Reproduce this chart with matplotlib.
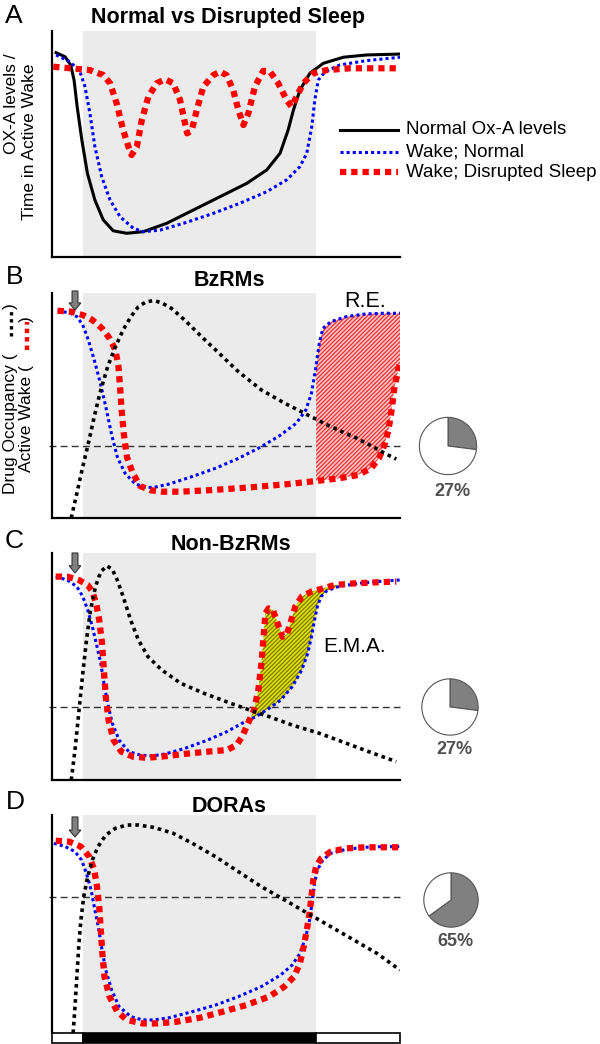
import numpy as np
import matplotlib
matplotlib.use('Agg')
from matplotlib import pyplot as plt
from matplotlib import patches
from matplotlib.lines import Line2D
from matplotlib.transforms import blended_transform_factory

plt.rcParams['font.family'] = ['Liberation Sans', 'DejaVu Sans']
plt.rcParams['hatch.linewidth'] = 0.9

W, H = 600, 1044

# time (h) and the dark period
t_end = 11.2
lights_off, lights_on = 1.0, 8.5
dose_time = 0.74

# ---- A: normal vs disrupted sleep ----
a_oxa_t = [0.13, 0.42, 0.60, 0.71, 0.81, 0.96, 1.14, 1.38, 1.65, 1.97, 2.40, 2.94, 3.69, 4.55,
           5.41, 6.27, 6.91, 7.34, 7.60, 7.77, 7.98, 8.30, 8.73, 9.38, 10.13, 11.2]
a_oxa_y = [90.4, 88.6, 85.0, 78.3, 66.5, 51.8, 37.0, 25.2, 16.4, 11.6, 10.5, 11.2, 14.9, 20.8,
           26.7, 32.6, 38.5, 45.9, 56.2, 65.0, 73.9, 81.3, 85.7, 88.4, 89.4, 89.8]
a_wake_t = [0.13, 0.58, 0.90, 1.06, 1.22, 1.38, 1.60, 1.87, 2.19, 2.62, 2.94, 3.48, 4.23, 5.19,
            6.05, 6.91, 7.55, 7.98, 8.20, 8.36, 8.46, 8.57, 8.79, 9.27, 10.13, 11.2]
a_wake_y = [89.4, 86.4, 82.0, 75.4, 63.6, 48.8, 35.5, 25.2, 17.8, 12.7, 11.2, 11.9, 14.9, 19.3,
            23.8, 28.9, 34.1, 40.0, 45.9, 57.7, 69.5, 78.3, 82.0, 85.0, 86.9, 88.4]
a_disr_t = [0.04, 1.22, 1.65, 1.87, 2.08, 2.29, 2.46, 2.56, 2.73, 2.89, 3.10, 3.37, 3.64, 3.90,
            4.12, 4.28, 4.35, 4.50, 4.66, 4.87, 5.19, 5.41, 5.62, 5.83, 6.00, 6.16, 6.32, 6.53,
            6.80, 7.02, 7.28, 7.55, 7.71, 7.87, 8.09, 8.41, 8.84, 9.59, 11.2]
a_disr_y = [84.2, 82.7, 80.5, 76.9, 68.0, 56.2, 48.8, 45.1, 48.8, 60.6, 70.9, 76.9, 78.6, 76.9,
            69.5, 59.2, 54.7, 56.2, 65.0, 75.4, 80.5, 82.0, 80.5, 73.9, 65.0, 58.4, 63.6, 75.4,
            82.4, 82.0, 76.9, 69.5, 66.5, 70.9, 76.9, 81.3, 82.7, 83.5, 83.5]

# ---- B: BzRMs ----
b_wake_t = [0.18, 0.55, 0.80, 0.99, 1.17, 1.36, 1.54, 1.73, 1.91, 2.10, 2.35, 2.66, 2.97, 3.28,
            3.77, 4.51, 5.26, 6.00, 6.74, 7.36, 7.86, 8.17, 8.35, 8.48, 8.60, 8.72, 8.97, 9.47,
            10.09, 10.70, 11.2]
b_wake_y = [92.1, 91.2, 89.5, 85.8, 79.1, 70.2, 60.8, 49.5, 37.6, 27.2, 19.9, 15.4, 13.6, 13.6,
            15.1, 18.4, 22.1, 26.5, 31.7, 36.9, 42.1, 48.0, 55.4, 65.8, 77.6, 84.3, 87.2, 89.5,
            90.7, 91.0, 91.0]
b_drug_t = [0.18, 0.62, 0.99, 1.30, 1.61, 1.85, 2.04, 2.14, 2.19, 2.24, 2.31, 2.41, 2.60, 2.84,
            3.15, 3.52, 4.14, 5.13, 6.37, 7.61, 8.60, 9.22, 9.84, 10.27, 10.52, 10.70, 10.83,
            10.93, 11.01, 11.14, 11.2]
b_drug_y = [92.1, 91.7, 90.2, 88.0, 84.3, 79.9, 74.7, 67.2, 58.4, 48.0, 37.6, 27.2, 19.9, 14.2,
            12.4, 11.7, 11.7, 12.4, 13.6, 15.1, 16.6, 17.6, 19.1, 22.1, 26.5, 32.4, 39.1,
            48.0, 56.9, 65.8, 69.0]
b_occ_t = [0.62, 0.80, 0.99, 1.17, 1.36, 1.54, 1.79, 2.04, 2.29, 2.54, 2.78, 3.03, 3.28, 3.52,
           3.84, 4.27, 4.76, 5.38, 6.00, 6.74, 7.49, 8.23, 8.97, 9.71, 10.33, 10.70, 11.08]
b_occ_y = [0.0, 11.0, 22.8, 33.2, 45.0, 55.4, 67.2, 76.1, 83.6, 89.5, 93.9, 96.1, 96.6, 95.7,
           93.2, 88.0, 81.3, 73.2, 65.0, 56.9, 51.0, 45.8, 40.6, 36.1, 31.7, 28.8, 26.2]
b_thresh = 32.0
b_pct = 27

# ---- C: non-BzRMs ----
c_wake_t = [0.12, 0.49, 0.80, 0.99, 1.15, 1.30, 1.45, 1.57, 1.67, 1.79, 1.94, 2.16, 2.47, 2.84,
            3.22, 3.65, 4.27, 5.01, 5.63, 6.12, 6.56, 6.99, 7.36, 7.73, 8.04, 8.23, 8.35, 8.45,
            8.54, 8.66, 8.85, 9.22, 9.84, 10.70, 11.2]
c_wake_y = [89.6, 88.1, 85.2, 80.8, 74.9, 67.5, 58.7, 51.4, 42.6, 33.8, 25.0, 17.6, 12.5, 11.0,
            10.6, 11.5, 13.9, 17.6, 21.3, 25.0, 27.9, 31.6, 35.2, 41.1, 48.5, 55.8, 63.1, 70.5,
            76.4, 80.8, 83.4, 85.2, 86.6, 87.7, 88.1]
c_drug_t = [0.12, 0.49, 0.86, 1.15, 1.30, 1.42, 1.52, 1.61, 1.67, 1.73, 1.82, 1.98, 2.23, 2.60,
            3.03, 3.53, 4.27, 5.01, 5.63, 5.94, 6.12, 6.31, 6.50, 6.64, 6.74, 6.81, 6.87, 6.97,
            7.11, 7.30, 7.42, 7.55, 7.67, 7.83, 8.04, 8.35, 8.72, 9.10, 9.71, 10.46, 11.08]
c_drug_y = [89.6, 89.6, 88.1, 85.9, 83.0, 77.8, 70.5, 60.2, 48.5, 36.7, 26.4, 17.6, 12.5, 10.3,
            9.8, 10.3, 11.5, 12.5, 13.2, 15.4, 19.1, 25.0, 30.8, 39.6, 51.4, 63.1, 73.4, 75.6,
            74.9, 67.5, 63.1, 63.9, 69.0, 76.4, 80.8, 83.0, 84.4, 85.9, 86.6, 87.1, 87.4]
c_occ_t = [0.62, 0.74, 0.86, 0.99, 1.11, 1.24, 1.40, 1.57, 1.77, 1.94, 2.10, 2.29, 2.53, 2.78,
           3.09, 3.53, 4.14, 4.89, 5.75, 6.37, 6.99, 7.73, 8.60, 9.47, 10.33, 11.08]
c_occ_y = [0.0, 13.2, 29.4, 47.0, 61.7, 74.9, 85.2, 91.8, 94.3, 92.8, 88.1, 80.8, 70.5, 61.7,
           54.3, 48.5, 42.6, 38.2, 33.8, 30.8, 27.9, 24.2, 20.6, 16.2, 11.8, 8.1]
c_thresh = 32.3
c_pct = 27

# ---- D: DORAs ----
d_wake_t = [0.06, 0.43, 0.74, 0.95, 1.11, 1.26, 1.38, 1.51, 1.61, 1.73, 1.92, 2.16, 2.54, 2.91,
            3.28, 3.77, 4.52, 5.26, 6.00, 6.74, 7.36, 7.73, 7.98, 8.17, 8.29, 8.38, 8.45, 8.54,
            8.72, 8.97, 9.47, 10.08, 10.70, 11.2]
d_wake_y = [87.0, 85.5, 83.2, 79.4, 73.2, 65.6, 56.4, 47.2, 38.1, 28.9, 19.7, 12.1, 7.5, 6.0,
            6.0, 7.0, 9.8, 12.8, 16.7, 21.3, 26.6, 31.2, 36.5, 44.2, 51.8, 61.0, 68.7, 74.8,
            79.4, 82.4, 84.3, 85.2, 85.5, 85.5]
d_drug_t = [0.12, 0.55, 0.93, 1.20, 1.36, 1.45, 1.52, 1.57, 1.62, 1.69, 1.85, 2.10, 2.41, 2.91,
            3.40, 4.02, 4.76, 5.50, 6.25, 6.99, 7.48, 7.79, 7.98, 8.10, 8.20, 8.29, 8.35, 8.41,
            8.50, 8.66, 8.97, 9.47, 10.08, 10.70, 11.2]
d_drug_y = [88.2, 87.8, 85.5, 80.9, 74.8, 67.1, 58.0, 47.2, 36.5, 25.8, 16.7, 9.8, 6.0, 4.4,
            4.4, 5.2, 7.0, 9.8, 12.8, 16.7, 21.3, 25.8, 32.0, 39.6, 47.2, 54.9, 62.5, 70.2,
            76.3, 80.1, 83.2, 84.7, 85.2, 85.2, 85.2]
d_occ_t = [0.68, 0.74, 0.80, 0.86, 0.93, 1.02, 1.15, 1.30, 1.48, 1.73, 2.04, 2.41, 2.78, 3.28,
           3.90, 4.52, 5.26, 6.00, 6.74, 7.49, 8.23, 8.97, 9.71, 10.46, 11.2]
d_occ_y = [0.0, 12.1, 25.8, 39.6, 51.8, 62.5, 71.7, 79.4, 85.5, 90.8, 93.9, 95.4, 95.4, 94.3,
           91.6, 87.0, 80.9, 74.0, 67.1, 61.0, 54.9, 48.8, 42.7, 36.5, 28.9]
d_thresh = 62.5
d_pct = 65

BLUE = dict(color='#0000ff', lw=2.2, ls=(0, (1, 1)), zorder=3)
RED = dict(color='#ff0000', lw=4.5, ls=(0, (1, 0.8)), zorder=4)
BLACK_DOT = dict(color='black', lw=2.6, ls=(0, (1, 1.1)), zorder=5)
SHADE = '#ebebeb'


def fpos(x, y):
    return x / W, 1 - y / H


def panel(fig, top, bottom):
    ax = fig.add_axes([52 / W, 1 - bottom / H, 348 / W, (bottom - top) / H])
    ax.set_xlim(0, t_end)
    ax.set_ylim(0, 100)
    ax.axvspan(lights_off, lights_on, color=SHADE, lw=0, zorder=0)
    for s in ['top', 'right']:
        ax.spines[s].set_visible(False)
    for s in ['left', 'bottom']:
        ax.spines[s].set_linewidth(1.6)
    ax.set_xticks([])
    ax.set_yticks([])
    return ax


def arrow(ax, top, tip):
    ax.add_patch(patches.FancyArrow(dose_time, top, 0, tip - top, width=0.19, head_width=0.38,
                                    head_length=3.2, length_includes_head=True,
                                    facecolor='#808080', edgecolor='#333333', lw=0.8,
                                    clip_on=False, zorder=6))


def pie(fig, cx, cy, r, pct, label_y):
    pax = fig.add_axes([(cx - r) / W, 1 - (cy + r) / H, 2 * r / W, 2 * r / H])
    pax.pie([pct, 100 - pct], colors=['#808080', 'white'], startangle=90, counterclock=False,
            wedgeprops=dict(edgecolor='#555555', linewidth=0.8))
    pax.set_xlim(-1.03, 1.03)
    pax.set_ylim(-1.03, 1.03)
    fig.text(*fpos(cx + 4, label_y), f'{pct}%', fontsize=13, fontweight='bold',
             color='#505050', ha='center', va='center')


def main():
    fig = plt.figure(figsize=(W / 100, H / 100), dpi=100)

    # ---- panel A ----
    ax = panel(fig, 31, 257)
    ax.plot(a_oxa_t, a_oxa_y, color='black', lw=2.2, zorder=3)
    ax.plot(a_wake_t, a_wake_y, **BLUE)
    ax.plot(a_disr_t, a_disr_y, **RED)
    fig.text(*fpos(5, 16), 'A', fontsize=19, ha='left', va='center')
    fig.text(*fpos(228, 18), 'Normal vs Disrupted Sleep', fontsize=15.5, fontweight='bold',
             ha='center', va='center')
    fig.text(*fpos(12, 104), 'OX-A levels /', fontsize=12.5, rotation=90, ha='center',
             va='center')
    fig.text(*fpos(30, 142), 'Time in Active Wake', fontsize=12.5, rotation=90, ha='center',
             va='center')
    leg = [('Normal Ox-A levels', dict(color='black', lw=2.2), 130),
           ('Wake; Normal', dict(BLUE), 152),
           ('Wake; Disrupted Sleep', dict(RED), 172)]
    for label, kw, y in leg:
        kw.pop('zorder', None)
        x0, y0 = fpos(340, y)
        x1, _ = fpos(398, y)
        fig.add_artist(Line2D([x0, x1], [y0, y0], transform=fig.transFigure, **kw))
        fig.text(*fpos(406, y), label, fontsize=13.5, ha='left', va='center')

    # ---- panel B ----
    ax = panel(fig, 293, 518)
    ax.hlines(b_thresh, -0.1, t_end, colors='#333333', lw=1.0, linestyles=(0, (5, 3)),
              clip_on=False, zorder=1)
    tt = np.linspace(lights_on, t_end, 120)
    ax.fill_between(tt, np.interp(tt, b_drug_t, b_drug_y), np.interp(tt, b_wake_t, b_wake_y),
                    facecolor='#f6c4c4', edgecolor='#f03030', hatch='////////', lw=0, zorder=2)
    ax.plot(b_wake_t, b_wake_y, **BLUE)
    ax.plot(b_drug_t, b_drug_y, **RED)
    ax.plot(b_occ_t, b_occ_y, **BLACK_DOT)
    arrow(ax, 100.9, 92.4)
    ax.text(10.07, 96.4, 'R.E.', fontsize=15.5, ha='center', va='center')
    fig.text(*fpos(6, 277), 'B', fontsize=19, ha='left', va='center')
    fig.text(*fpos(229, 280), 'BzRMs', fontsize=15.5, fontweight='bold', ha='center', va='center')
    # y label with line-style keys
    fig.text(*fpos(10.5, 494), 'Drug Occupancy (', fontsize=12.5, rotation=90,
             rotation_mode='anchor', ha='left', va='center')
    fig.text(*fpos(10.5, 303), ')', fontsize=12.5, rotation=90, rotation_mode='anchor',
             ha='right', va='center')
    fig.text(*fpos(26, 472), 'Active Wake (', fontsize=12.5, rotation=90,
             rotation_mode='anchor', ha='left', va='center')
    fig.text(*fpos(26, 316), ')', fontsize=12.5, rotation=90, rotation_mode='anchor',
             ha='right', va='center')
    x0, y0 = fpos(11, 336)
    _, y1 = fpos(11, 310)
    fig.add_artist(Line2D([x0, x0], [y0, y1], transform=fig.transFigure, color='black', lw=2.4,
                          ls=(0, (1, 1.1))))
    x0, y0 = fpos(26.5, 350)
    _, y1 = fpos(26.5, 322)
    fig.add_artist(Line2D([x0, x0], [y0, y1], transform=fig.transFigure, color='#ff0000', lw=3.2,
                          ls=(0, (1, 0.9))))
    pie(fig, 448, 446, 29.5, b_pct, 492)

    # ---- panel C ----
    ax = panel(fig, 553, 780)
    ax.hlines(c_thresh, -0.1, t_end, colors='#333333', lw=1.0, linestyles=(0, (5, 3)),
              clip_on=False, zorder=1)
    tt = np.linspace(6.2, 9.2, 300)
    r_i = np.interp(tt, c_drug_t, c_drug_y)
    b_i = np.interp(tt, c_wake_t, c_wake_y)
    ax.fill_between(tt, r_i, b_i, where=r_i > b_i, interpolate=True, facecolor='#e2e200',
                    edgecolor='#7a7a00', hatch='////////', lw=0, zorder=2)
    ax.plot(c_wake_t, c_wake_y, **BLUE)
    ax.plot(c_drug_t, c_drug_y, **RED)
    ax.plot(c_occ_t, c_occ_y, **BLACK_DOT)
    arrow(ax, 100.0, 91.2)
    ax.text(9.75, 58.6, 'E.M.A.', fontsize=15, ha='center', va='center')
    fig.text(*fpos(5, 541), 'C', fontsize=19, ha='left', va='center')
    fig.text(*fpos(231, 545), 'Non-BzRMs', fontsize=15.5, fontweight='bold', ha='center',
             va='center')
    pie(fig, 450, 707, 29, c_pct, 750)

    # ---- panel D ----
    ax = panel(fig, 815, 1033)
    ax.spines['bottom'].set_visible(False)
    ax.hlines(d_thresh, -0.1, t_end, colors='#333333', lw=1.0, linestyles=(0, (5, 3)),
              clip_on=False, zorder=1)
    ax.plot(d_wake_t, d_wake_y, **BLUE)
    ax.plot(d_drug_t, d_drug_y, **RED)
    ax.plot(d_occ_t, d_occ_y, **BLACK_DOT)
    arrow(ax, 99.1, 89.9)
    trans = blended_transform_factory(ax.transData, ax.transAxes)
    bar_h = 10 / 218
    for x0, x1, c in [(0, lights_off, 'white'), (lights_off, lights_on, 'black'),
                      (lights_on, t_end, 'white')]:
        ax.add_patch(patches.Rectangle((x0, -bar_h), x1 - x0, bar_h, transform=trans,
                                       facecolor=c, edgecolor='black', lw=1.2, clip_on=False))
    fig.text(*fpos(6, 802), 'D', fontsize=19, ha='left', va='center')
    fig.text(*fpos(229, 807), 'DORAs', fontsize=15.5, fontweight='bold', ha='center', va='center')
    pie(fig, 451, 900, 28, d_pct, 942)

    fig.savefig('out.png', dpi=100)


if __name__ == "__main__":
    main()
